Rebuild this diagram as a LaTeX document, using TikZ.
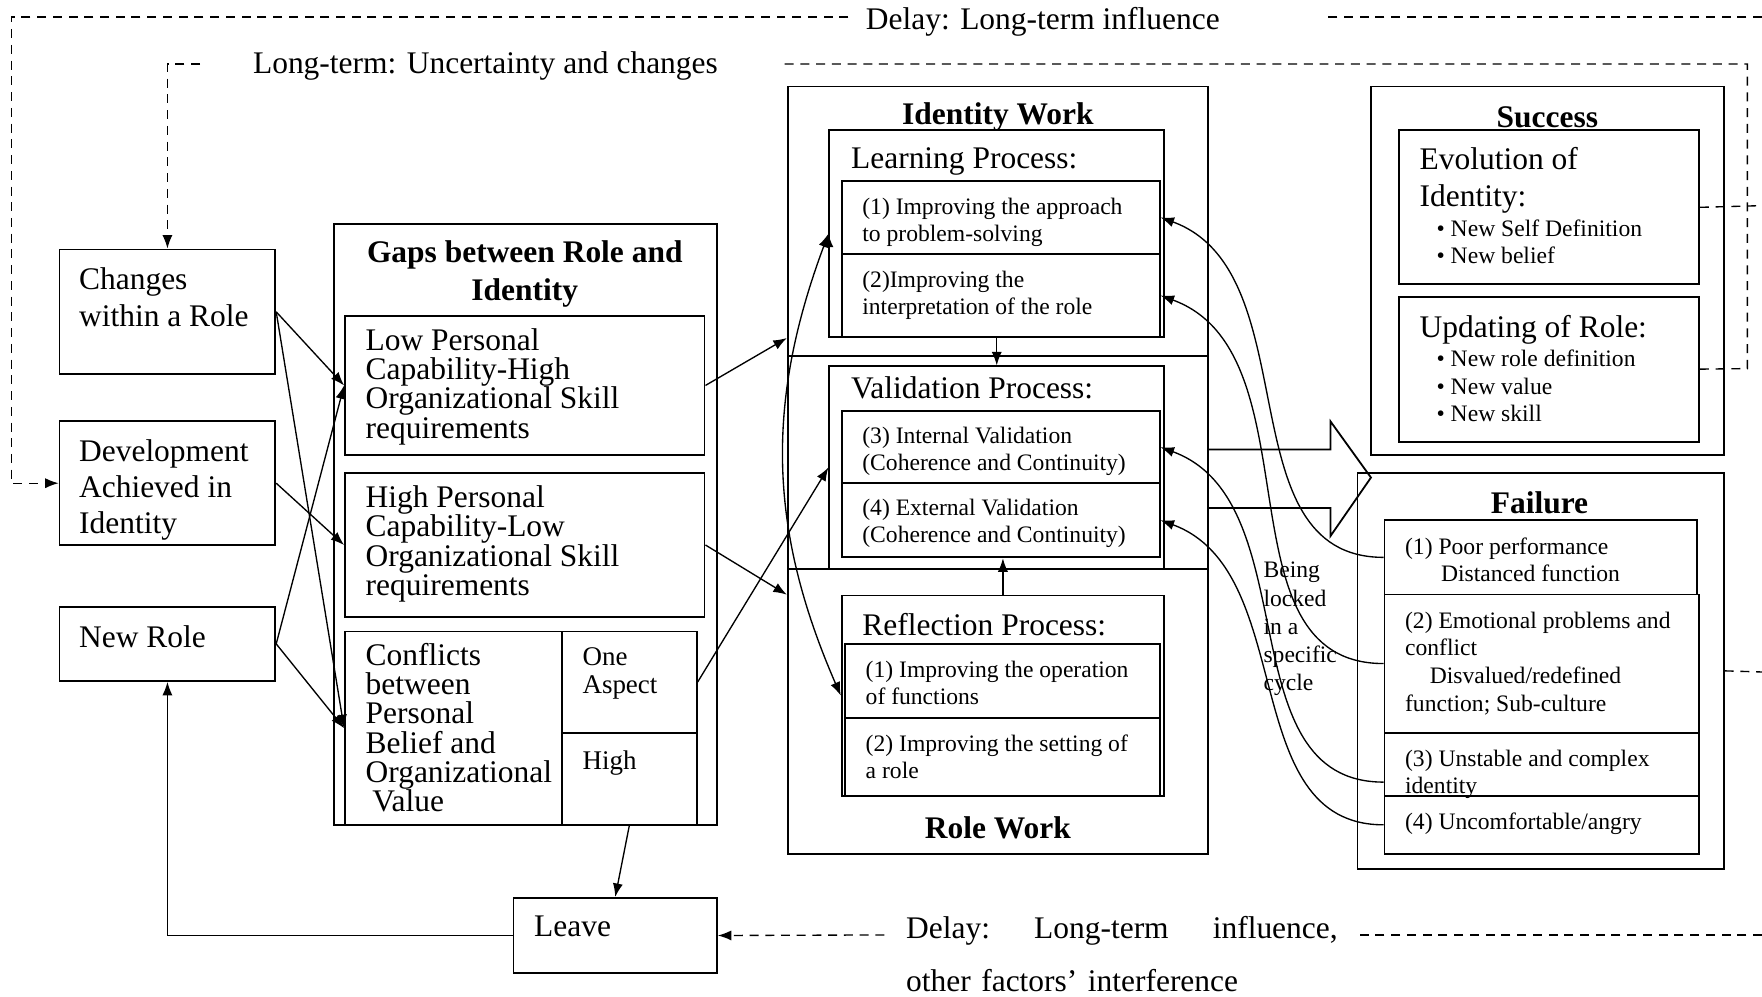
\documentclass[tikz,border=0pt]{standalone}
\usepackage{fontspec}
\setmainfont{Liberation Serif}
\usetikzlibrary{positioning,fit,arrows.meta}
\setlength{\lineskiplimit}{-10pt}

\begin{document}
\begin{tikzpicture}[x=0.5pt,y=-0.5pt,
    >={Latex[length=6pt,width=4.5pt]},
    box/.style={draw,line width=0.8pt,inner sep=0pt},
    txt/.style={anchor=north west,inner sep=0pt,align=left,font=\fontsize{14}{13}\selectfont},
    sml/.style={anchor=north west,inner sep=0pt,align=left,font=\fontsize{10.5}{12}\selectfont},
    mid/.style={anchor=north west,inner sep=0pt,align=left,font=\fontsize{12}{12.5}\selectfont},
    ttl/.style={inner sep=0pt,align=center,font=\fontsize{14}{17}\selectfont\bfseries},
    arr/.style={->,line width=0.6pt},
    dsh/.style={line width=0.6pt,dash pattern=on 4pt off 3pt}]
      \useasboundingbox (0,0) rectangle (1568,887);

      % sources
      \node[box,fit={(53,222) (245,333)}] (chg) {};
      \node[txt,font=\fontsize{14}{16.5}\selectfont] at (70,238) {Changes\\within a Role};
      \node[box,fit={(53,375) (245,485)}] (dev) {};
      \node[txt,font=\fontsize{14}{16}\selectfont] at (70,391) {Development\\Achieved in\\Identity};
      \node[box,fit={(53,540) (245,606)}] (nrole) {};
      \node[txt] at (70,556) {New Role};

      % gaps
      \node[box,fit={(297,199) (638,734)}] (gaps) {};
      \node[ttl,anchor=north] at (467,214) {Gaps between Role and\\Identity};
      \node[box,fit={(307,281) (627,405)}] (low) {};
      \node[txt] at (325,292) {Low Personal\\Capability-High\\Organizational Skill\\requirements};
      \node[box,fit={(307,421) (627,549)}] (high) {};
      \node[txt] at (325,432) {High Personal\\Capability-Low\\Organizational Skill\\requirements};
      \node[box,fit={(307,562) (620,734)}] (conf) {};
      \node[txt] at (325,572) {Conflicts\\between\\Personal\\Belief and\\Organizational\\\hspace*{3pt}Value};
      \node[box,fit={(500,562) (620,652)}] (asp) {};
      \node[box,fit={(500,652) (620,734)}] (hi) {};
      \node[mid] at (518,576) {One\\Aspect};
      \node[mid] at (518,668) {High};

      \node[box,fit={(457,799) (638,866)}] (leave) {};
      \node[txt] at (475,815) {Leave};

      % identity work / role work
      \node[box,fit={(701,77) (1075,760)}] (iw) {};
      \draw[line width=0.8pt] (701,317) -- (1075,317) (701,506) -- (1075,506);
      \node[ttl] at (888,104) {Identity Work};
      \node[ttl] at (888,737) {Role Work};
      \node[box,fit={(738,116) (1036,300)}] (learn) {};
      \node[txt] at (757,131) {Learning Process:};
      \node[box,fit={(749,161) (1032,226)}] (l1) {};
      \node[box,fit={(749,226) (1032,300)}] (l2) {};
      \node[sml] at (767,176) {(1) Improving the approach\\to problem-solving};
      \node[sml] at (767,241) {(2)Improving the\\interpretation of the role};
      \node[box,fit={(738,326) (1036,506)}] (valid) {};
      \node[txt] at (757,335) {Validation Process:};
      \node[box,fit={(749,366) (1032,430)}] (v3) {};
      \node[box,fit={(749,430) (1032,496)}] (v4) {};
      \node[sml] at (767,380) {(3) Internal Validation\\(Coherence and Continuity)};
      \node[sml] at (767,444) {(4) External Validation\\(Coherence and Continuity)};
      \node[box,fit={(749,530) (1036,708)}] (refl) {};
      \node[txt] at (767,545) {Reflection Process:};
      \node[box,fit={(752,573) (1032,639)}] (r1) {};
      \node[box,fit={(752,639) (1032,708)}] (r2) {};
      \node[sml] at (770,588) {(1) Improving the operation\\of functions};
      \node[sml] at (770,654) {(2) Improving the setting of\\a role};

      % success
      \node[box,fit={(1220,77) (1534,405)}] (succ) {};
      \node[ttl] at (1377,104) {Success};
      \node[box,fit={(1245,116) (1512,253)}] (evo) {};
      \node[txt,font=\fontsize{14}{16.5}\selectfont] at (1263,131) {Evolution of\\Identity:};
      \node[sml] at (1278,195) {\textbullet\ New Self Definition\\\textbullet\ New belief};
      \node[box,fit={(1245,264) (1512,393)}] (upd) {};
      \node[txt] at (1263,280) {Updating of Role:};
      \node[sml,font=\fontsize{10.5}{12.3}\selectfont] at (1278,311) {\textbullet\ New role definition\\\textbullet\ New value\\\textbullet\ New skill};

      % failure
      \node[box,fit={(1208,421) (1534,773)}] (fail) {};
      \node[ttl] at (1370,447) {Failure};
      \node[box,fit={(1232,463) (1510,529)}] (f1) {};
      \node[box,fit={(1232,529) (1512,652)}] (f2) {};
      \node[box,fit={(1232,652) (1512,708)}] (f3) {};
      \node[box,fit={(1232,708) (1512,760)}] (f4) {};
      \node[sml] at (1250,478) {(1) Poor performance\\\hspace*{16pt}Distanced function};
      \node[sml,font=\fontsize{10.5}{12.3}\selectfont] at (1250,544) {(2) Emotional problems and\\conflict\\\hspace*{11pt}Disvalued/redefined\\function; Sub-culture};
      \node[sml] at (1250,667) {(3) Unstable and complex\\identity};
      \node[sml] at (1250,723) {(4) Uncomfortable/angry};
      \node[sml,font=\fontsize{10.5}{12.5}\selectfont] at (1124,500) {Being\\locked\\in a\\specific\\cycle};

      % block arrow
      \draw[line width=0.8pt] (1076,400) -- (1184,400) -- (1184,375) -- (1220,425)
        -- (1184,477) -- (1184,452) -- (1076,452);

      \path[arr,draw]
      (chg.east) edge (low.west)
      (chg.east) edge (conf.west)
      (dev.east) edge (high.west)
      (nrole.east) edge (low.west)
      (nrole.east) edge (conf.west)
      (low.east) edge (iw.west |- learn.south)
      (high.east) edge (iw.west |- refl.north)
      (asp.east) edge (valid.west)
      (learn.south) edge (valid.north)
      (refl.north) edge (refl.north |- v4.south)
      (hi.south) edge (leave.north)
      (learn.west) edge[<->,bend right=22] (refl.west);
      \draw[arr] (leave.west) -| (nrole.south);

      % locked cycle
      \draw[arr] (f1.west) to[out=180,in=-20] (l1.east);
      \draw[arr] (f2.west) to[out=180,in=-20] (l2.east);
      \draw[arr] ([yshift=-8pt]f3.west) to[out=180,in=-20] (v3.east);
      \draw[arr] (f4.west) to[out=180,in=-20] (v4.east);

      % delays
      \coordinate (e1) at (1568,15);
      \coordinate (e2) at (1568,183);
      \coordinate (e3) at (1568,598);
      \coordinate (e4) at (1568,832);
      \node[txt,anchor=center] (dl1) at (928,19) {Delay: Long-term influence};
      \draw[dsh] (e1) -- (1180,15);
      \draw[dsh,arr] (755,15) -| (10,430) -- (dev.west);
      \node[txt,anchor=center] (dl2) at (432,59) {Long-term: Uncertainty and changes};
      \draw[dsh] (upd.east) -- (1555,328) -- (1555,57) -- (693,57);
      \draw[dsh,arr] (178,57) -| (chg.north);
      \draw[dsh] (evo.east) -- (e2);
      \draw[dsh] (fail.east) -- (e3);
      \node[txt,font=\fontsize{14}{23.5}\selectfont,text width=192pt] (dl3) at (806,815)
        {Delay:\hfill Long-term\hfill influence,\\other factors' interference};
      \draw[dsh] (e4) -- (1205,832);
      \draw[dsh,arr] (787,832) -- (leave.east);
    \end{tikzpicture}
\end{document}
